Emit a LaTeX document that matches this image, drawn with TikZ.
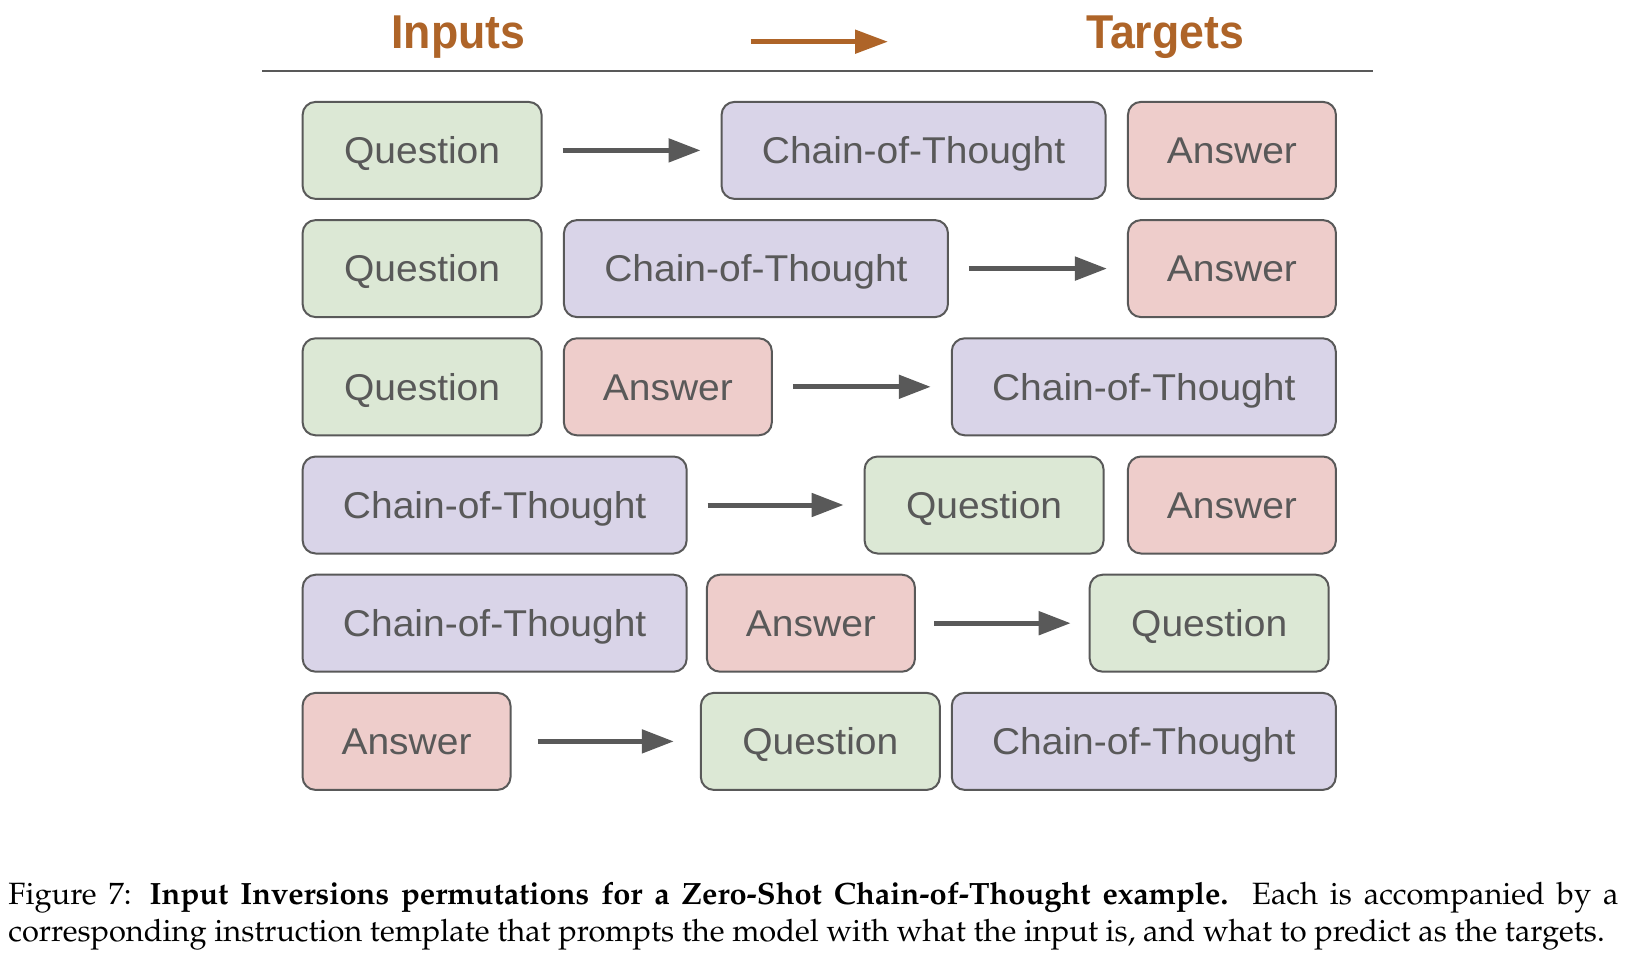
\documentclass[tikz,border=0pt]{standalone}
\usepackage[T1]{fontenc}
\usepackage{fontspec}
\setsansfont{Liberation Sans}
\usetikzlibrary{arrows.meta}
\definecolor{qfill}{HTML}{DCE8D5}
\definecolor{cfill}{HTML}{D9D4E8}
\definecolor{afill}{HTML}{EECDCB}
\definecolor{dgray}{HTML}{595959}
\definecolor{hbrown}{HTML}{AE6428}
\newcommand\capfnt{\fontsize{30.8}{36}\fontencoding{T1}\fontfamily{ppl}\selectfont}
\newcommand\bt[1]{\scalebox{1.045}[1]{#1}}
\tikzset{
  box/.style={draw=dgray, line width=2pt, rounded corners=13pt, minimum height=97pt,
    inner sep=0pt, text height=26.7pt, text depth=0pt,
    font=\fontsize{37.3}{40}\sffamily, text=dgray},
  qbox/.style={box, fill=qfill, minimum width=239pt},
  cbox/.style={box, fill=cfill, minimum width=384pt},
  abox/.style={box, fill=afill, minimum width=208pt},
  arr/.style={draw=dgray, line width=5pt, -{Triangle[length=32pt,width=23pt]},
    shorten <=20pt, shorten >=20pt},
  harr/.style={draw=hbrown, line width=5pt, -{Triangle[length=33pt,width=23pt]}},
  head/.style={anchor=base, font=\fontsize{47.5}{50}\sffamily\bfseries, text=hbrown},
}
\begin{document}
\begin{tikzpicture}[x=1pt,y=-1pt]
\useasboundingbox (0,0) rectangle (1626,960);
\fill[white] (0,0) rectangle (1626,960);
% header
\node[head] (inp) at (458.5,49) {\scalebox{0.94}[1]{Inputs}};
\node[head] (tgt) at (1165,49) {\scalebox{0.94}[1]{Targets}};
\coordinate (hs) at (750.7,41.7);
\coordinate (he) at (888,41.7);
\draw[harr] (hs) -- (he);
\coordinate (l1) at (262,71);
\coordinate (l2) at (1373,71);
\draw[dgray, line width=2pt] (l1) -- (l2);
% row 1
\node[qbox] (q1) at (422.1,150.4) {\bt{Question}};
\node[cbox] (c1) at (913.55,150.4) {\bt{Chain-of-Thought}};
\node[abox] (a1) at (1231.95,150.4) {\bt{Answer}};
\draw[arr] (q1.east) -- (c1.west);
% row 2
\node[qbox] (q2) at (422.1,268.6) {\bt{Question}};
\node[cbox] (c2) at (755.95,268.6) {\bt{Chain-of-Thought}};
\node[abox] (a2) at (1231.95,268.6) {\bt{Answer}};
\draw[arr] (c2.east) -- (a2.west);
% row 3
\node[qbox] (q3) at (422.1,386.8) {\bt{Question}};
\node[abox] (a3) at (667.85,386.8) {\bt{Answer}};
\node[cbox] (c3) at (1143.75,386.8) {\bt{Chain-of-Thought}};
\draw[arr] (a3.east) -- (c3.west);
% row 4
\node[cbox] (c4) at (494.65,505) {\bt{Chain-of-Thought}};
\node[qbox] (q4) at (984.1,505) {\bt{Question}};
\node[abox] (a4) at (1231.95,505) {\bt{Answer}};
\draw[arr] (c4.east) -- (q4.west);
% row 5
\node[cbox] (c5) at (494.65,623.2) {\bt{Chain-of-Thought}};
\node[abox] (a5) at (810.95,623.2) {\bt{Answer}};
\node[qbox] (q5) at (1209.2,623.2) {\bt{Question}};
\draw[arr, shorten <=18.5pt, shorten >=18pt] (a5.east) -- (q5.west);
% row 6
\node[abox] (a6) at (406.55,741.4) {\bt{Answer}};
\node[qbox] (q6) at (820.3,741.4) {\bt{Question}};
\node[cbox] (c6) at (1143.75,741.4) {\bt{Chain-of-Thought}};
\draw[arr, shorten <=26pt, shorten >=26pt] (a6.east) -- (q6.west);
% caption
\node[anchor=base west, inner sep=0pt] (cap1) at (8.3,904) {\capfnt\makebox[1610pt][s]{Figure 7: \textbf{Input Inversions permutations for a Zero-Shot Chain-of-Thought example.}\ \ Each is accompanied by a}};
\node[anchor=base west, inner sep=0pt] (cap2) at (8.3,941) {\capfnt corresponding instruction template that prompts the model with what the input is, and what to predict as the targets.};
\end{tikzpicture}
\end{document}
